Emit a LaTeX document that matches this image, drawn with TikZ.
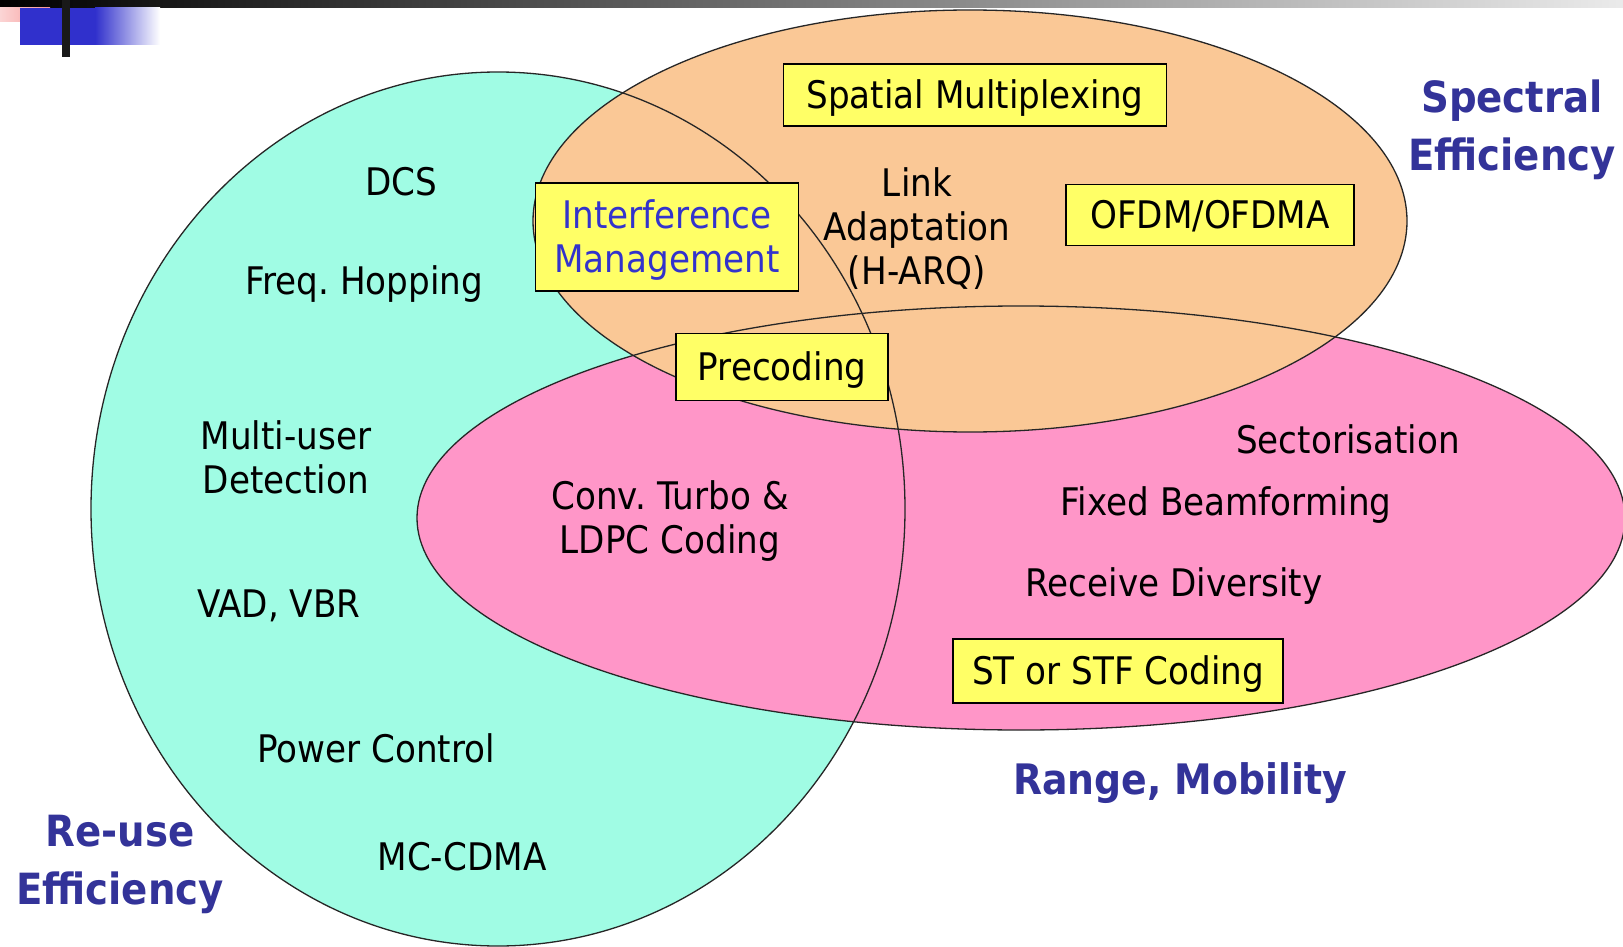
\documentclass[tikz,border=0pt]{standalone}
\usepackage{fontspec}
\setmainfont{DejaVu Sans}[FakeStretch=0.9]
\definecolor{setcyan}{RGB}{160,252,228}
\definecolor{setorange}{RGB}{250,200,150}
\definecolor{setpink}{RGB}{255,150,200}
\definecolor{boxyellow}{RGB}{255,255,102}
\definecolor{catblue}{RGB}{51,51,153}
\definecolor{imblue}{RGB}{51,51,204}
\definecolor{barblue}{RGB}{48,48,204}
\definecolor{barpink}{RGB}{246,150,150}
\begin{document}
\begin{tikzpicture}[x=1pt,y=-1pt,
  outline/.style={draw=black!85, line width=1.3pt},
  item/.style={font=\fontsize{38}{44}\selectfont, align=center, inner sep=0pt, text=black},
  tag/.style={item, draw=black, line width=1.5pt, fill=boxyellow, text depth=2pt},
  cat/.style={font=\fontsize{43}{58}\selectfont\bfseries, text=catblue, align=center, inner sep=0pt}]
\useasboundingbox (0,0) rectangle (1623,947);
\fill[white] (0,0) rectangle (1623,947);

% slide header ornament
\shade[left color=black, right color=black!8] (0,0) rectangle (1623,8);
\shade[left color=barpink!40, right color=barpink] (0,8) rectangle (50,22);
\fill[barblue] (20,8) rectangle (95,45);
\shade[left color=barblue, right color=white] (95,8) rectangle (160,45);
\fill[black!90] (62,0) rectangle (70,57);

% the three sets: fills first, outlines on top
\fill[setcyan] (498,509) ellipse [x radius=407pt, y radius=437pt];
\fill[setpink] (1021,518) ellipse [x radius=604pt, y radius=212pt];
\fill[setorange] (970,221) ellipse [x radius=437pt, y radius=211pt];
\draw[outline] (498,509) ellipse [x radius=407pt, y radius=437pt];
\draw[outline] (1021,518) ellipse [x radius=604pt, y radius=212pt];
\draw[outline] (970,221) ellipse [x radius=437pt, y radius=211pt];

% re-use efficiency techniques
\node[item] (dcs) at (401,182) {DCS};
\node[item] (fh) at (364,284) {Freq.\ Hopping};
\node[item] (mud) at (286,457) {Multi-user\\Detection};
\node[item] (vad) at (279,606) {VAD, VBR};
\node[item] (pc) at (376,748) {Power Control};
\node[item] (mc) at (462,857) {MC-CDMA};
\node[item] (conv) at (670,521) {Conv.\ Turbo \&\\LDPC Coding};

% spectral efficiency techniques
\node[item] (link) at (917,229) {Link\\Adaptation\\(H-ARQ)};
\node[tag, minimum width=383pt, minimum height=62pt] (sm) at (975,95) {Spatial Multiplexing};
\node[tag, minimum width=263pt, minimum height=108pt, text=imblue] (im) at (667,237) {Interference\\Management};
\node[tag, minimum width=288pt, minimum height=61pt] (ofdm) at (1210,215) {OFDM/OFDMA};
\node[tag, minimum width=212pt, minimum height=67pt] (pre) at (782,367) {Precoding};

% range and mobility techniques
\node[item] (sect) at (1348,439) {Sectorisation};
\node[item] (fbf) at (1226,505) {Fixed Beamforming};
\node[item] (rxd) at (1174,586) {Receive Diversity};
\node[tag, minimum width=330pt, minimum height=64pt] (st) at (1118,671) {ST or STF Coding};

% set captions
\node[cat] (se) at (1512,130) {Spectral\\Efficiency};
\node[cat, font=\fontsize{42}{58}\selectfont\bfseries] (rm) at (1180,783) {Range, Mobility};
\node[cat] (re) at (120,864) {Re-use\\Efficiency};
\end{tikzpicture}
\end{document}
